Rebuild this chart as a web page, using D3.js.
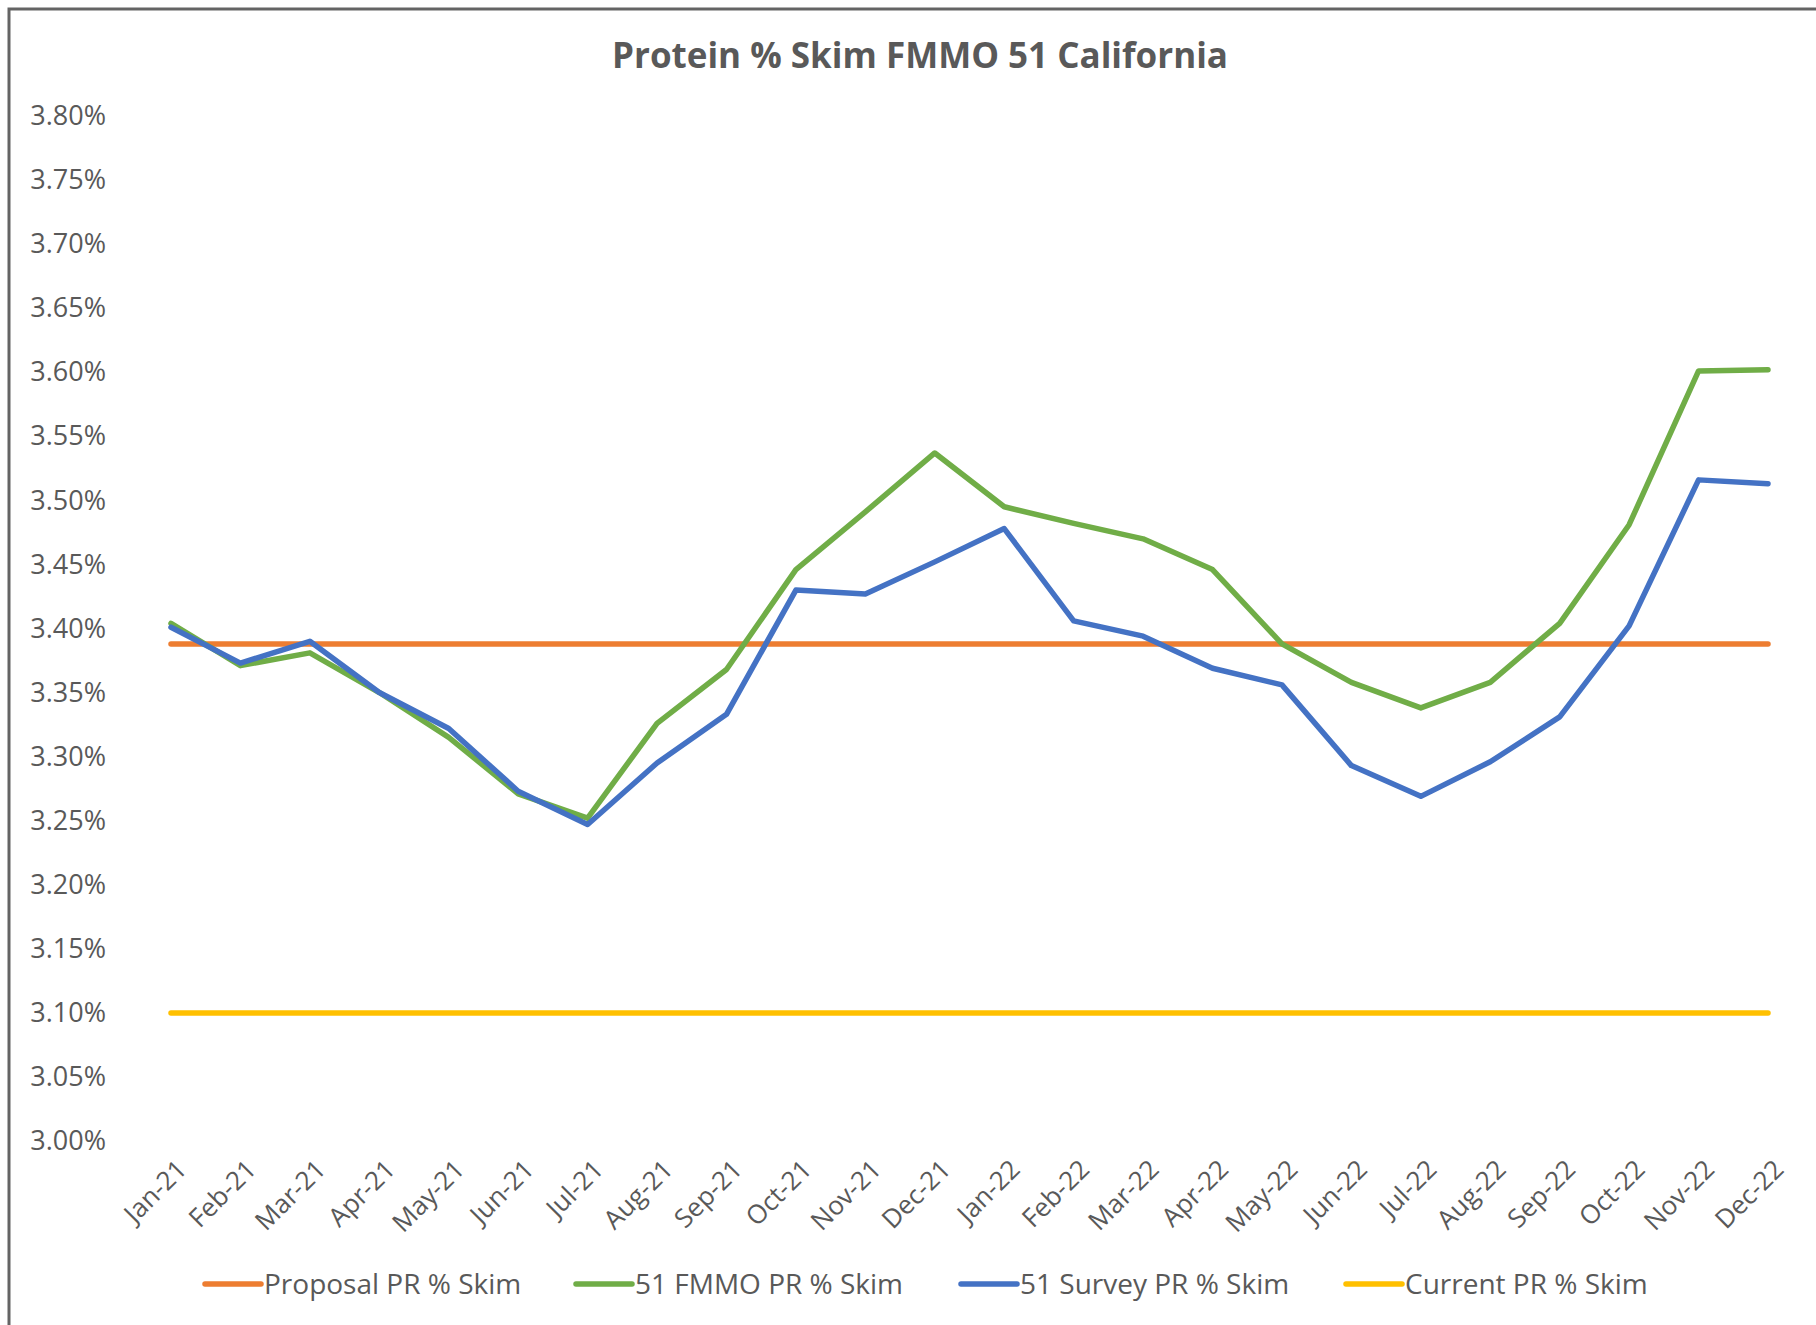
<!DOCTYPE html>
<html>
<head>
<meta charset="utf-8">
<script src="https://cdn.jsdelivr.net/npm/d3@7"></script>
<style>
  body { margin: 0; background: #fff; }
  text { font-family: 'Open Sans', 'Noto Sans', sans-serif; fill: #595959; }
</style>
</head>
<body>
<div id="app"></div>
<script>
const months = ['Jan-21', 'Feb-21', 'Mar-21', 'Apr-21', 'May-21', 'Jun-21', 'Jul-21', 'Aug-21',
  'Sep-21', 'Oct-21', 'Nov-21', 'Dec-21', 'Jan-22', 'Feb-22', 'Mar-22', 'Apr-22', 'May-22',
  'Jun-22', 'Jul-22', 'Aug-22', 'Sep-22', 'Oct-22', 'Nov-22', 'Dec-22'];
const proposal = months.map(() => 3.388);
const fmmo = [3.404, 3.371, 3.381, 3.350, 3.315, 3.271, 3.252, 3.326, 3.368, 3.446, 3.491, 3.537,
  3.495, 3.482, 3.470, 3.446, 3.388, 3.358, 3.338, 3.358, 3.404, 3.481, 3.601, 3.602];
const survey = [3.401, 3.373, 3.390, 3.350, 3.322, 3.273, 3.247, 3.295, 3.333, 3.430, 3.427, 3.452,
  3.478, 3.406, 3.394, 3.369, 3.356, 3.293, 3.269, 3.296, 3.331, 3.402, 3.516, 3.513];
const current = months.map(() => 3.10);
const yTicks = [3.00, 3.05, 3.10, 3.15, 3.20, 3.25, 3.30, 3.35, 3.40, 3.45, 3.50, 3.55, 3.60, 3.65, 3.70, 3.75, 3.80];
const seriesNames = ['Proposal PR % Skim', '51 FMMO PR % Skim', '51 Survey PR % Skim', 'Current PR % Skim'];

(() => {
  const width = 1816;
  const height = 1325;
  const colors = ['#ED7D31', '#70AD47', '#4472C4', '#FFC000'];
  const series = [proposal, fmmo, survey, current];

  const svg = d3.select('#app')
    .append('svg')
    .attr('width', width)
    .attr('height', height);

  // chart frame (left and top edges visible)
  svg.append('path')
    .attr('d', `M9,${height} L9,9 L${width},9`)
    .style('fill', 'none')
    .style('stroke', '#646464')
    .style('stroke-width', 3);

  const x = d3.scalePoint().domain(months).range([171, 1768]);
  const y = d3.scaleLinear().domain([3.00, 3.80]).range([1141, 116]);

  // title
  svg.append('text')
    .text('Protein % Skim FMMO 51 California')
    .attr('x', 920)
    .attr('y', 68)
    .attr('font-size', 35)
    .attr('font-weight', 700)
    .style('text-anchor', 'middle');

  // y axis labels
  const yAxis = d3.axisLeft(y)
    .tickValues(yTicks)
    .tickSize(0)
    .tickPadding(0)
    .tickFormat(d => `${d.toFixed(2)}%`);
  const yg = svg.append('g')
    .attr('transform', 'translate(106,0)')
    .call(yAxis);
  yg.select('.domain').remove();
  yg.selectAll('text')
    .attr('font-size', 27)
    .attr('font-family', null)
    .attr('fill', null);

  // x axis labels, rotated
  const xAxis = d3.axisBottom(x).tickSize(0).tickPadding(0);
  const xg = svg.append('g')
    .attr('transform', 'translate(0,1158)')
    .call(xAxis);
  xg.select('.domain').remove();
  xg.selectAll('text')
    .attr('font-size', 26)
    .attr('font-family', null)
    .attr('fill', null)
    .attr('dy', '0.7em')
    .attr('transform', 'translate(4,0) rotate(-45)')
    .style('text-anchor', 'end');

  // series lines
  const line = d3.line()
    .x((d, i) => x(months[i]))
    .y(d => y(d));

  svg.selectAll('path.series')
    .data(series)
    .enter()
    .append('path')
    .attr('class', 'series')
    .attr('d', line)
    .style('fill', 'none')
    .style('stroke', (d, i) => colors[i])
    .style('stroke-width', 5.5)
    .style('stroke-linecap', 'round')
    .style('stroke-linejoin', 'round');

  // legend
  const legendX = [205, 576, 961, 1346];
  const legendY = 1284;
  const legend = svg.selectAll('g.legend')
    .data(seriesNames)
    .enter()
    .append('g')
    .attr('class', 'legend')
    .attr('transform', (d, i) => `translate(${legendX[i]},${legendY})`);

  legend.append('line')
    .attr('x1', 0)
    .attr('x2', 56)
    .attr('y1', 0)
    .attr('y2', 0)
    .style('stroke', (d, i) => colors[i])
    .style('stroke-width', 5.5)
    .style('stroke-linecap', 'round');

  legend.append('text')
    .text(d => d)
    .attr('x', 59)
    .attr('y', 0)
    .attr('font-size', 28)
    .attr('dy', '0.35em');
})();
</script>
</body>
</html>
